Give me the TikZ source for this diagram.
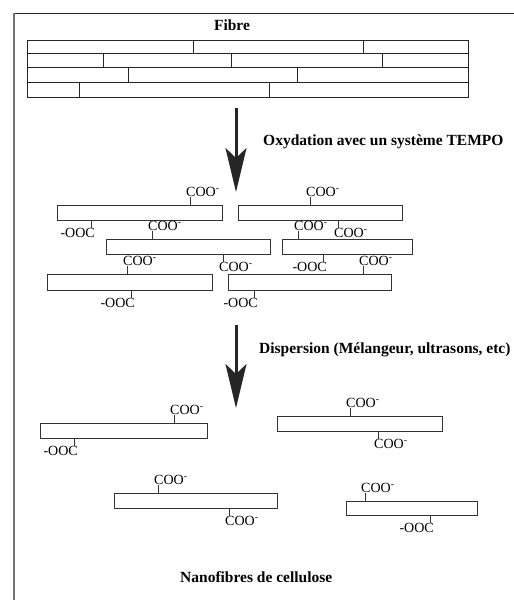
\documentclass[tikz,border=0pt]{standalone}
\usepackage{fontspec}
\setmainfont{Liberation Serif}
\usetikzlibrary{arrows.meta}

% carboxylate group drawn above a fibril, tick at x=#2 on edge y=#3
\newcommand\cooabove[3]{%
  \coordinate (t#1) at (#2,#3);
  \node[grp,anchor=south west] (#1) at ([shift={(-4,-8)}]t#1) {COO\textsuperscript{-}};
  \draw[tick] (t#1) -- (t#1 |- #1.south);}
% carboxylate group below a fibril, written COO-
\newcommand\coobelow[3]{%
  \coordinate (t#1) at (#2,#3);
  \node[grp,anchor=north west] (#1) at ([shift={(-4,8)}]t#1) {COO\textsuperscript{-}};
  \draw[tick] (t#1) -- (t#1 |- #1.north);}
% carboxylate group below a fibril, written -OOC
\newcommand\oocbelow[3]{%
  \coordinate (t#1) at (#2,#3);
  \node[grp,anchor=north east] (#1) at ([shift={(4,8)}]t#1) {-OOC};
  \draw[tick] (t#1) -- (t#1 |- #1.north);}

\begin{document}
\begin{tikzpicture}[x=1pt,y=-1pt,
  edge/.style={draw=black!85,line width=0.8pt},
  fibril/.style={rectangle,draw=black!80,line width=0.8pt,inner sep=0pt,anchor=north west},
  tick/.style={draw=black!80,line width=0.7pt},
  grp/.style={inner sep=0pt,font=\fontsize{14}{16}\selectfont},
  title/.style={inner sep=0pt,font=\bfseries\fontsize{15.5}{18}\selectfont},
  bigarrow/.style={draw=black!85,fill=black!85,line width=3pt,
    -{Stealth[length=44pt,width=21pt,inset=10pt]}}]
\useasboundingbox (0,0) rectangle (514,600);

% frame
\draw[black!85,line width=0.7pt] (514,13) -- (14,13);
\draw[black!55,line width=1.2pt] (14,13) -- (14,600);

% fibre: four rows of stacked microfibrils
\node[title,anchor=base] (fibre) at (232,30) {Fibre};
\draw[edge] (27,40) rectangle (468,97);
\foreach \y in {53.5,67.5,82} \draw[edge] (27,\y) -- (468,\y);
\foreach \x in {193,363} \draw[edge] (\x,40) -- (\x,53.5);
\foreach \x in {103,231,382} \draw[edge] (\x,53.5) -- (\x,67.5);
\foreach \x in {128,297} \draw[edge] (\x,67.5) -- (\x,82);
\foreach \x in {79,269} \draw[edge] (\x,82) -- (\x,97);

% step 1
\coordinate (s1) at (236,108);
\coordinate (e1) at (236,192);
\draw[bigarrow] (s1) -- (e1);
\node[title,anchor=base west] (oxy) at (263,145) {Oxydation avec un système TEMPO};

% oxidised fibrils
\node[fibril,minimum width=165pt,minimum height=15pt] (A) at (57,205) {};
\node[fibril,minimum width=164pt,minimum height=15pt] (B) at (238,205) {};
\node[fibril,minimum width=164pt,minimum height=15pt] (C) at (106,239) {};
\node[fibril,minimum width=130pt,minimum height=15pt] (D) at (282,239) {};
\node[fibril,minimum width=165pt,minimum height=16pt] (E) at (47,274) {};
\node[fibril,minimum width=163pt,minimum height=16pt] (F) at (228,274) {};

\cooabove{Au}{190}{205}
\oocbelow{Ad}{91}{220}
\cooabove{Bu}{310}{205}
\coobelow{Bd}{338}{220}
\cooabove{Cu}{152}{239}
\coobelow{Cd}{223}{254}
\cooabove{Du}{298}{239}
\oocbelow{Dd}{323}{254}
\cooabove{Eu}{127}{274}
\oocbelow{Ed}{131}{290}
\cooabove{Fu}{363}{274}
\oocbelow{Fd}{254}{290}

% step 2
\coordinate (s2) at (236,325);
\coordinate (e2) at (236,408);
\draw[bigarrow] (s2) -- (e2);
\node[title,anchor=base west] (disp) at (259,353) {Dispersion (Mélangeur, ultrasons, etc)};

% individual nanofibrils
\node[fibril,minimum width=167pt,minimum height=15pt] (G) at (40,423) {};
\node[fibril,minimum width=165pt,minimum height=15pt] (H) at (277,416) {};
\node[fibril,minimum width=163pt,minimum height=15pt] (I) at (114,493) {};
\node[fibril,minimum width=131pt,minimum height=14pt] (J) at (346,501) {};

\cooabove{Gu}{174}{423}
\oocbelow{Gd}{74}{438}
\cooabove{Hu}{350}{416}
\coobelow{Hd}{378}{431}
\cooabove{Iu}{158}{493}
\coobelow{Id}{229}{508}
\cooabove{Ju}{365}{501}
\oocbelow{Jd}{430}{515}

\node[title,anchor=base west] (nano) at (180,582) {Nanofibres de cellulose};
\end{tikzpicture}
\end{document}
